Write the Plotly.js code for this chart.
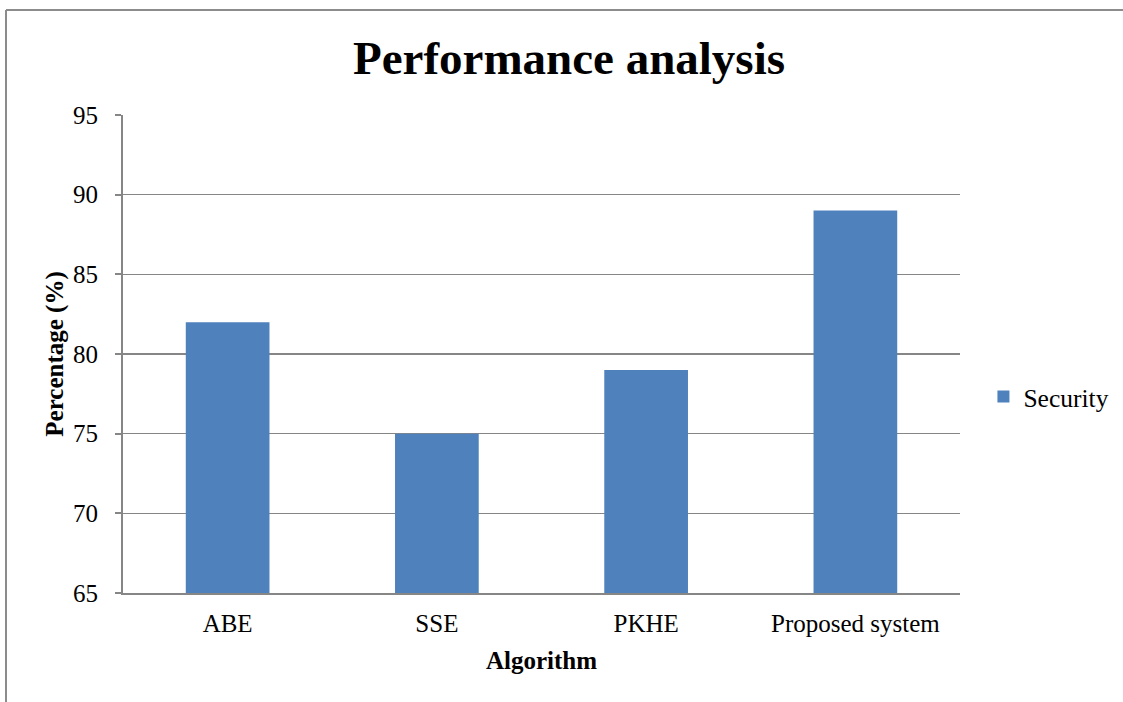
<!DOCTYPE html>
<html>
<head>
<meta charset="utf-8">
<script src="https://cdn.plot.ly/plotly-3.0.1.min.js"></script>
<style>html,body{margin:0;padding:0;background:#fff;}#chart{width:1123px;height:702px;}</style>
</head>
<body>
<div id="chart"></div>
<script>
const categories = ["ABE", "SSE", "PKHE", "Proposed system"];
const security = [82, 75, 79, 89];
const yTicks = [65, 70, 75, 80, 85, 90, 95];
const seriesName = "Security";

const FONT = "'Liberation Serif', 'Times New Roman', serif";
const GRID = "#868686";

const trace = {
  type: "bar",
  x: categories,
  y: security,
  name: seriesName,
  marker: {color: "#4F81BD"},
  showlegend: true
};

const layout = {
  width: 1123, height: 702,
  margin: {l: 123, r: 163, t: 115, b: 109, autoexpand: false},
  paper_bgcolor: "#fff", plot_bgcolor: "#fff",
  font: {family: FONT, size: 25, color: "#000"},
  title: {
    text: "<b>Performance analysis</b>",
    font: {family: FONT, size: 47, color: "#000"},
    x: 569/1123, xanchor: "center", xref: "container",
    y: 1 - 58/702, yanchor: "middle", yref: "container"
  },
  bargap: 0.6,
  showlegend: true,
  legend: {
    x: 1.028, xanchor: "left", y: 0.41, yanchor: "middle",
    font: {family: FONT, size: 25.5, color: "#000"},
    bgcolor: "rgba(0,0,0,0)", itemwidth: 30
  },
  xaxis: {
    type: "category",
    showgrid: false,
    showline: true, linecolor: GRID, linewidth: 2,
    ticks: "", ticklabelstandoff: 7,
    tickfont: {family: FONT, size: 25, color: "#000"},
    title: {text: "<b>Algorithm</b>", font: {family: FONT, size: 25, color: "#000"}, standoff: 15},
    fixedrange: true
  },
  yaxis: {
    range: [65, 95],
    tickvals: yTicks,
    ticktext: yTicks.map(String),
    showgrid: true, gridcolor: GRID, gridwidth: 1.5,
    showline: true, linecolor: GRID, linewidth: 2,
    ticks: "outside", ticklen: 6, tickcolor: GRID, tickwidth: 2,
    ticklabelstandoff: 12,
    tickfont: {family: FONT, size: 25, color: "#000"},
    title: {text: "<b>Percentage (%)</b>", font: {family: FONT, size: 25, color: "#000"}, standoff: 2},
    zeroline: false,
    fixedrange: true
  },
  shapes: [
    {type: "line", xref: "paper", yref: "paper", x0: (6-123)/837, x1: (6-123)/837, y0: (593-10)/478, y1: (593-702)/478, line: {color: "#8c8c8c", width: 2}},
    {type: "line", xref: "paper", yref: "paper", x0: (6-123)/837, x1: (1123-123)/837, y0: (593-10)/478, y1: (593-10)/478, line: {color: "#8c8c8c", width: 2}}
  ]
};

Plotly.newPlot("chart", [trace], layout, {displayModeBar: false, staticPlot: true});
</script>
</body>
</html>
